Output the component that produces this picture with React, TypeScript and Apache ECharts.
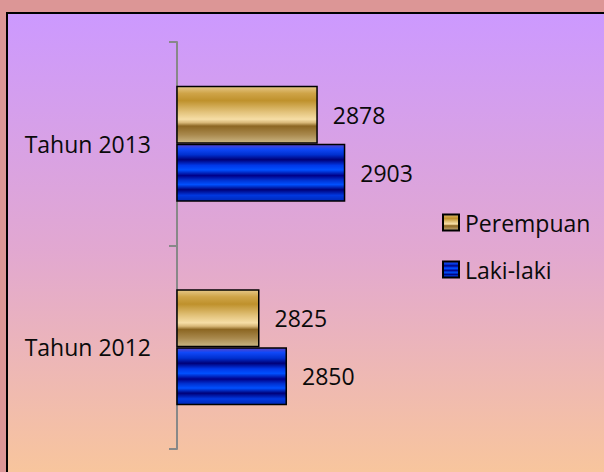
import React, { useEffect, useRef } from "react";
import * as echarts from "echarts";

const categories = ["Tahun 2012", "Tahun 2013"];
const lakiLaki = [2850, 2903];
const perempuan = [2825, 2878];
const legendOrder = ["Perempuan", "Laki-laki"];

const FONT = "'Open Sans', 'Noto Sans', sans-serif";

const goldGradient = new echarts.graphic.LinearGradient(0, 0, 0, 1, [
  { offset: 0, color: "#e6c888" },
  { offset: 0.12, color: "#cfa448" },
  { offset: 0.25, color: "#bf912c" },
  { offset: 0.45, color: "#e2c27a" },
  { offset: 0.58, color: "#f6dea6" },
  { offset: 0.64, color: "#d8b878" },
  { offset: 0.7, color: "#8c6622" },
  { offset: 0.85, color: "#a8884c" },
  { offset: 1, color: "#cbb684" },
]);

const blueGradient = new echarts.graphic.LinearGradient(0, 0, 0, 1, [
  { offset: 0, color: "#5a44c8" },
  { offset: 0.08, color: "#1048f8" },
  { offset: 0.18, color: "#0030d0" },
  { offset: 0.27, color: "#000078" },
  { offset: 0.37, color: "#0038e8" },
  { offset: 0.45, color: "#0050ff" },
  { offset: 0.55, color: "#000088" },
  { offset: 0.63, color: "#0030d0" },
  { offset: 0.71, color: "#0050ff" },
  { offset: 0.8, color: "#000078" },
  { offset: 0.9, color: "#0038e0" },
  { offset: 1, color: "#0028b8" },
]);

export default function App() {
  const ref = useRef<HTMLDivElement>(null);
  useEffect(() => {
    if (!ref.current) return;
    const chart = echarts.init(ref.current, undefined, { renderer: "svg" });
    const labelStyle = {
      show: true,
      position: "right" as const,
      distance: 15,
      color: "#0a0a0a",
      fontSize: 23,
      fontFamily: FONT,
    };
    chart.setOption({
      animation: false,
      backgroundColor: "#dc9696",
      graphic: [
        {
          type: "rect",
          z: -10,
          shape: { x: 7, y: 13, width: 620, height: 480 },
          style: {
            fill: new echarts.graphic.LinearGradient(0, 0, 0, 1, [
              { offset: 0, color: "#cc99ff" },
              { offset: 0.5, color: "#e2a8d0" },
              { offset: 1, color: "#fac898" },
            ]),
            stroke: "#000",
            lineWidth: 2,
          },
        },
      ],
      grid: { left: 177, top: 42, bottom: 23, right: 207, containLabel: false },
      legend: {
        orient: "vertical",
        left: 437,
        top: 206,
        itemWidth: 16,
        itemHeight: 16,
        itemGap: 24,
        icon: "rect",
        data: legendOrder,
        textStyle: { fontSize: 23, fontFamily: FONT, color: "#0a0a0a", padding: [0, 0, 0, 1] },
      },
      xAxis: {
        type: "value",
        min: 2750,
        max: 2950,
        show: false,
        splitLine: { show: false },
      },
      yAxis: {
        type: "category",
        data: categories,
        axisLine: { show: true, lineStyle: { color: "#888", width: 2 } },
        axisTick: { show: true, length: 8, lineStyle: { color: "#888", width: 2 } },
        axisLabel: { color: "#0a0a0a", fontSize: 23, fontFamily: FONT, margin: 26 },
      },
      series: [
        {
          name: "Perempuan",
          type: "bar",
          data: perempuan,
          barWidth: 58,
          barGap: "0%",
          itemStyle: { color: goldGradient, borderColor: "#000", borderWidth: 1.5 },
          label: labelStyle,
        },
        {
          name: "Laki-laki",
          type: "bar",
          data: lakiLaki,
          barWidth: 58,
          barGap: "0%",
          itemStyle: { color: blueGradient, borderColor: "#000", borderWidth: 1.5 },
          label: labelStyle,
        },
      ],
    });
    return () => chart.dispose();
  }, []);
  return (
    <div
      ref={ref}
      style={{ position: "fixed", left: 0, top: 0, width: 604, height: 472 }}
    />
  );
}
